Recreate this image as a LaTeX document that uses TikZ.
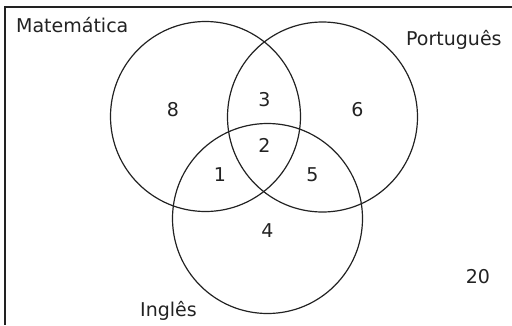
\documentclass[tikz,border=0pt]{standalone}
\usepackage{fontspec}
\setmainfont{DejaVu Sans}
\definecolor{ink}{HTML}{222222}
\begin{document}
\begin{tikzpicture}[x=1pt,y=-1pt,
  venn/.style={draw=ink,line width=1.2pt,circle,inner sep=0pt,minimum size=190pt},
  lbl/.style={text=ink,inner sep=0pt,font=\fontsize{19}{23}\selectfont},
  num/.style={lbl}]
\useasboundingbox (0,0) rectangle (512,325);
\coordinate (tr) at (512,7);
\coordinate (tl) at (5,7);
\coordinate (bl) at (5,325);
\draw[ink,line width=1.2pt] (tr) -- (tl) -- (bl);
\node[venn] (M) at (205.5,116.5) {};
\node[venn] (P) at (322.5,117) {};
\node[venn] (I) at (267.5,218.5) {};
\node[lbl,anchor=base west] (tM) at (16,32) {Matemática};
\node[lbl,anchor=base west] (tP) at (406,45) {Português};
\node[lbl,anchor=base west] (tI) at (140,316) {Inglês};
\node[num] (n8) at (173,110) {8};
\node[num] (n3) at (264.5,100) {3};
\node[num] (n6) at (357.5,110) {6};
\node[num] (n2) at (264.5,145.5) {2};
\node[num] (n1) at (220,175) {1};
\node[num] (n5) at (312.5,175) {5};
\node[num] (n4) at (267.5,231) {4};
\node[num] (n20) at (478,276.5) {20};
\end{tikzpicture}
\end{document}
